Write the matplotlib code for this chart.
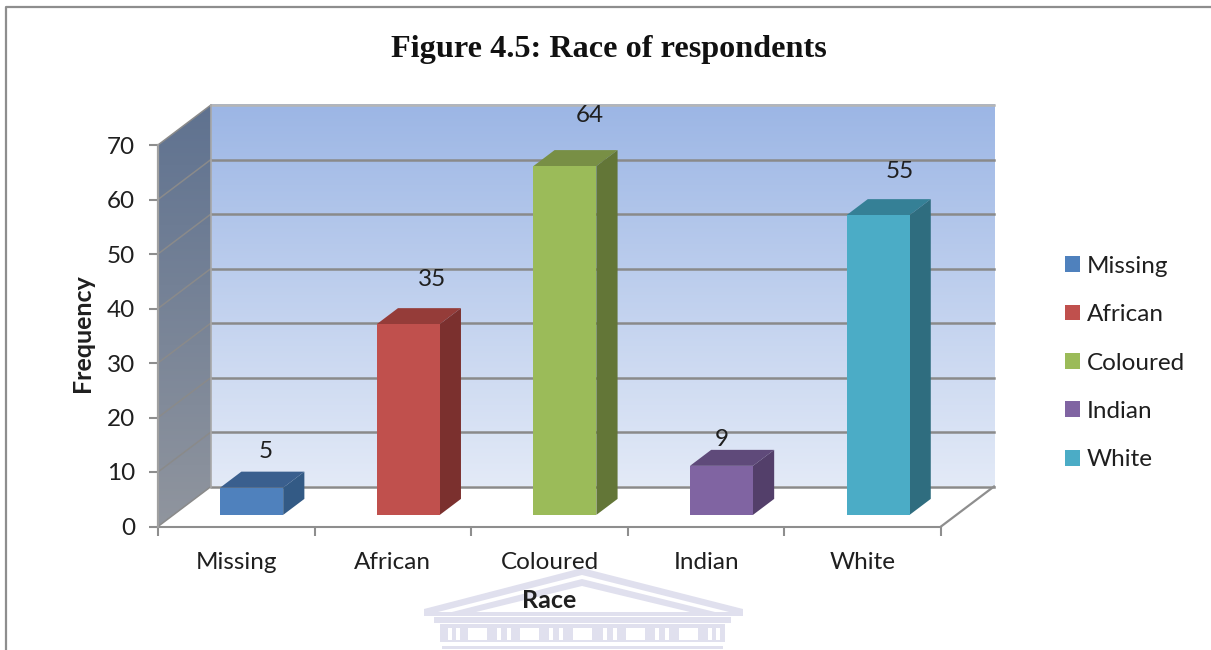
import numpy as np
import matplotlib
matplotlib.use('Agg')
import matplotlib.pyplot as plt
from matplotlib.lines import Line2D
from matplotlib.patches import Polygon, Rectangle

categories = ['Missing', 'African', 'Coloured', 'Indian', 'White']
frequency = [5, 35, 64, 9, 55]
y_ticks = [0, 10, 20, 30, 40, 50, 60, 70]

front_colors = ['#4f81bd', '#c0504d', '#9bbb59', '#8064a2', '#4bacc6']
top_colors = ['#3a5f8e', '#953c39', '#788f45', '#5f4a7a', '#358096']
side_colors = ['#335a85', '#7b302e', '#637637', '#533f6a', '#2f6d7f']

# where excel left the data labels, relative to the middle of each slot
label_dx = [0.19, 0.25, 0.26, 0.10, 0.235]
label_dy = [8.7, 10.3, 11.4, 6.9, 10.1]

W, H = 1211, 650
GREY = '#8e8e8e'
TEXT = '#1f1f1f'
# depth of the fake 3d box in axis units
DX = 53 / 156.6
DY = 40 / 5.45
BAR_W = 63 / 156.6
BAR_D0 = 0.29
BAR_D1 = 0.69

plt.rcParams['font.family'] = ['Lato', 'DejaVu Sans']

fig = plt.figure(figsize=(W / 100, H / 100), dpi=100)
ax = fig.add_axes([158 / W, (H - 526.5) / H, 783 / W, 381.5 / H])
ax.patch.set_visible(False)


def px(x, y):
    return x / W, 1 - y / H


# Outer frame of the chart, cut off by the screenshot
fig.add_artist(Line2D([6 / W, 6 / W, 1], [0, 1 - 7 / H, 1 - 7 / H], color=GREY, lw=1.6, zorder=0))


# Watermark behind the chart
def draw_watermark():
    wm = '#e0e0ee'
    fig.add_artist(Polygon([px(424, 609), px(582, 568), px(743, 609), px(743, 616), px(424, 616)],
                           closed=True, facecolor=wm, edgecolor='none', zorder=0))
    fig.add_artist(Polygon([px(438, 612), px(582, 575), px(729, 612)],
                           closed=True, facecolor='white', edgecolor='none', zorder=0))
    fig.add_artist(Polygon([px(452, 612), px(582, 579), px(715, 612)],
                           closed=True, facecolor=wm, edgecolor='none', zorder=0))
    fig.add_artist(Polygon([px(476, 612), px(582, 586), px(690, 612)],
                           closed=True, facecolor='white', edgecolor='none', zorder=0))
    fig.add_artist(Rectangle(px(434, 623), 297 / W, 6 / H, facecolor=wm, zorder=0))
    fig.add_artist(Rectangle(px(440, 642), 285 / W, 18 / H, facecolor=wm, zorder=0))
    fig.add_artist(Rectangle(px(442, 649), 281 / W, 3 / H, facecolor=wm, zorder=0))
    for x0 in [468, 520, 573, 626, 679]:
        fig.add_artist(Rectangle(px(x0, 640), 19 / W, 12 / H, facecolor='white', zorder=0))
    for x0 in [448, 456, 497, 507, 549, 559, 603, 613, 655, 665, 708, 716]:
        fig.add_artist(Rectangle(px(x0, 640), 4 / W, 12 / H, facecolor='white', zorder=0))


draw_watermark()

# Back wall and left wall gradients
ramp = np.linspace(0, 1, 256).reshape(-1, 1, 1)
c_top = np.array(matplotlib.colors.to_rgb('#9cb6e5'))
c_bot = np.array(matplotlib.colors.to_rgb('#e3eaf7'))
ax.imshow(c_top + (c_bot - c_top) * ramp, extent=[DX, 5 + DX, DY, 70 + DY], aspect='auto', zorder=1, clip_on=False)

c_top = np.array(matplotlib.colors.to_rgb('#5f7290'))
c_bot = np.array(matplotlib.colors.to_rgb('#90959e'))
wall = ax.imshow(c_top + (c_bot - c_top) * ramp, extent=[0, DX, 0, 70 + DY], aspect='auto', zorder=1)
# the image gets cut at the axes box otherwise
wall.set_clip_box(fig.bbox)
wall.set_clip_path(Polygon([(0, 0), (DX, DY), (DX, 70 + DY), (0, 70)], closed=True, transform=ax.transData))

# Gridlines run across the back wall and down the left wall
for val in y_ticks:
    ax.plot([0, DX], [val, val + DY], color='#8a8a8a', lw=1.1, zorder=2, clip_on=False)
    col = '#b5b5b5' if val == 70 else '#8a8a8a'
    ax.plot([DX, 5 + DX], [val + DY, val + DY], color=col, lw=1.8, zorder=2, clip_on=False)

# Box edges
ax.plot([DX, DX], [DY, 70 + DY], color='#a8a8a8', lw=1.2, zorder=2, clip_on=False)
ax.plot([5, 5 + DX], [0, DY], color=GREY, lw=1.6, zorder=2, clip_on=False)
ax.plot([0, 0], [0, 70], color='#a0a0a0', lw=1.6, zorder=3, clip_on=False)

# Bars, front face then the top and the side
slots = np.arange(len(categories)) + 0.5
base = BAR_D0 * DY
depth_x = (BAR_D1 - BAR_D0) * DX
depth_y = (BAR_D1 - BAR_D0) * DY
for i, name in enumerate(categories):
    mid = slots[i] + BAR_D0 * DX
    ax.bar(mid, frequency[i], width=BAR_W, bottom=base, color=front_colors[i], label=name, zorder=5)
    left = mid - BAR_W / 2
    right = mid + BAR_W / 2
    top = frequency[i] + base
    ax.fill([left, right, right + depth_x, left + depth_x],
            [top, top, top + depth_y, top + depth_y], color=top_colors[i], lw=0, zorder=4, clip_on=False)
    ax.fill([right, right + depth_x, right + depth_x, right],
            [base, base + depth_y, top + depth_y, top], color=side_colors[i], lw=0, zorder=4, clip_on=False)
    ax.text(slots[i] + label_dx[i], frequency[i] + label_dy[i], str(frequency[i]), ha='center', va='center',
            fontsize=17.5, color=TEXT, zorder=6)

ax.set_xlim(0, 5)
ax.set_ylim(0, 70)

for side in ['top', 'right', 'left']:
    ax.spines[side].set_visible(False)
ax.spines['bottom'].set_color(GREY)
ax.spines['bottom'].set_linewidth(1.5)

ax.set_yticks(y_ticks)
ax.set_xticks(range(6))
ax.set_xticklabels([])
ax.set_xticks(slots, minor=True)
ax.set_xticklabels(categories, minor=True)
ax.tick_params(axis='both', which='major', length=6.5, width=1.5, color=GREY, labelsize=17.5, labelcolor=TEXT)
ax.tick_params(axis='y', pad=10)
ax.tick_params(axis='x', which='minor', length=0, labelsize=17.5, labelcolor=TEXT, pad=18.7)

ax.set_xlabel('Race', fontsize=18, fontweight='bold', color=TEXT, labelpad=0)
ax.xaxis.set_label_coords((549 - 158) / 783, -(601 - 526.5) / 381.5, transform=ax.transAxes)
ax.xaxis.label.set_va('center')
ax.set_ylabel('Frequency', fontsize=18, fontweight='bold', color=TEXT)
ax.yaxis.set_label_coords((83 - 158) / 783, (526.5 - 333) / 381.5, transform=ax.transAxes)
ax.yaxis.label.set_va('center')

fig.text(609 / W, 1 - 49 / H, 'Figure 4.5: Race of respondents', family='Liberation Serif',
         fontsize=23.2, fontweight='bold', color='#111111', ha='center', va='center')

fig.legend(loc='center left', bbox_to_anchor=(1043.5 / W, 1 - 363 / H), frameon=False, fontsize=17.5,
           handlelength=0.62, handleheight=0.62, handletextpad=0.25, labelspacing=1.127, labelcolor=TEXT)

fig.savefig('out.png', dpi=100)
